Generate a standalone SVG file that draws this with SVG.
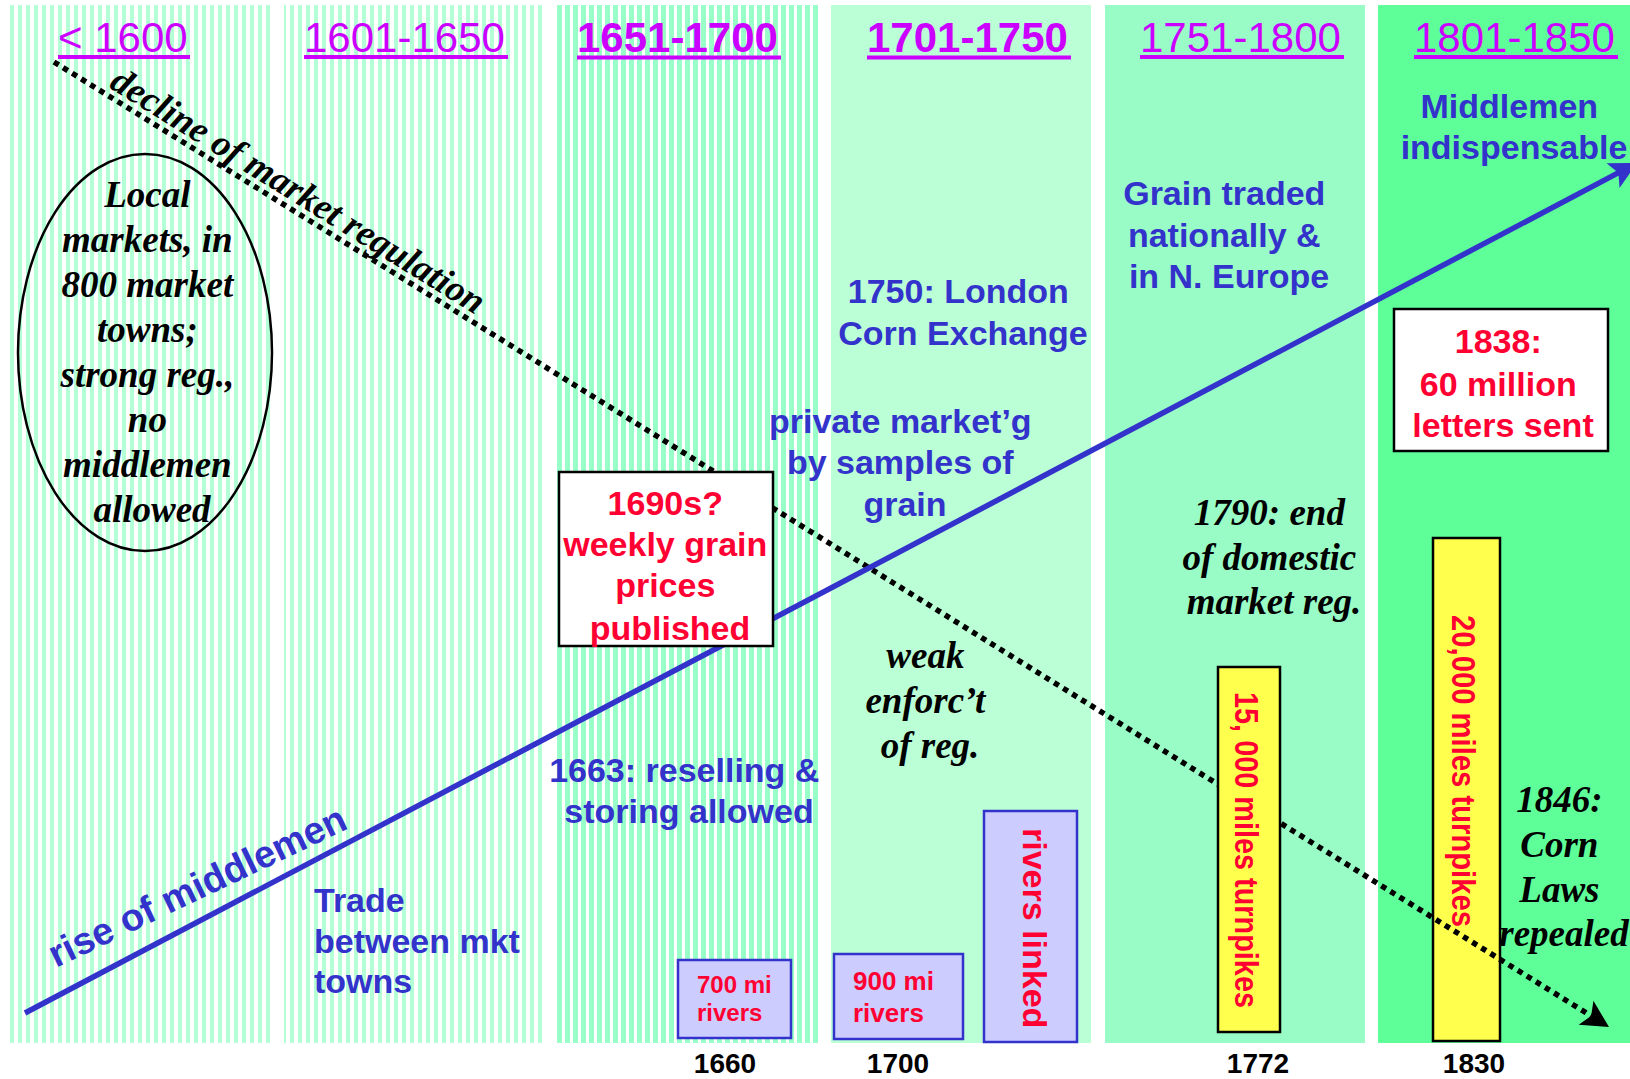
<svg xmlns="http://www.w3.org/2000/svg" width="1630" height="1079" viewBox="0 0 1630 1079">
<defs>
<style>
.sans{font-family:"Liberation Sans",Arial,sans-serif;}
.bold{font-weight:bold;}
.serif{font-family:"Liberation Serif","Times New Roman",serif;font-weight:bold;font-style:italic;fill:#000;}
.title{font-family:"Liberation Sans",Arial,sans-serif;font-size:42px;fill:#cc00ff;}
.ul{stroke:#cc00ff;stroke-width:4;}
.blue{font-family:"Liberation Sans",Arial,sans-serif;font-weight:bold;font-size:34px;fill:#3333cc;}
.red{font-family:"Liberation Sans",Arial,sans-serif;font-weight:bold;fill:#ff0033;}
.whitebox{fill:#ffffff;stroke:#000;stroke-width:2.5;}
.lav{fill:#ccccff;stroke:#3333cc;stroke-width:2.5;}
.yel{fill:#ffff4d;stroke:#000;stroke-width:2.5;}
.year{font-family:"Liberation Sans",Arial,sans-serif;font-weight:bold;font-size:28px;fill:#000;}
</style>
<pattern id="stripeA" patternUnits="userSpaceOnUse" x="2" y="0" width="8" height="10">
<rect x="0" y="0" width="8" height="10" fill="#ffffff"/>
<rect x="0" y="0" width="4" height="10" fill="#b3ffd6"/>
</pattern>
<pattern id="stripeB" patternUnits="userSpaceOnUse" x="5" y="0" width="8" height="10">
<rect x="0" y="0" width="8" height="10" fill="#ffffff"/>
<rect x="0" y="0" width="5" height="10" fill="#99ffc8"/>
</pattern>
<marker id="arrowBlack" markerUnits="userSpaceOnUse" viewBox="-12 -16 32 32" markerWidth="32" markerHeight="32" refX="0" refY="0" orient="auto" overflow="visible">
<path d="M18,0 L-9,-14 L-3,0 L-9,14 Z" fill="#000"/>
</marker>
<marker id="arrowBlue" markerUnits="userSpaceOnUse" viewBox="-12 -16 32 32" markerWidth="32" markerHeight="32" refX="0" refY="0" orient="auto" overflow="visible">
<path d="M18,0 L-9,-14 L-3,0 L-9,14 Z" fill="#3333cc"/>
</marker>
</defs>

<rect x="0" y="0" width="1630" height="1079" fill="#ffffff"/>

<g id="columns">
<rect x="10" y="5" width="262" height="1038" fill="url(#stripeA)"/>
<rect x="284" y="5" width="259" height="1038" fill="url(#stripeA)"/>
<rect x="557" y="5" width="261" height="1038" fill="url(#stripeB)"/>
<rect x="831" y="5" width="260" height="1038" fill="#bbffd6"/>
<rect x="1105" y="5" width="260" height="1038" fill="#99fcc6"/>
<rect x="1378" y="5" width="262" height="1038" fill="#5eff99"/>
</g>

<g id="titles">
<text class="title" x="58" y="52">&lt; 1600</text>
<line class="ul" x1="58" y1="57" x2="190" y2="57"/>
<text class="title" x="304" y="52">1601-1650</text>
<line class="ul" x1="304" y1="57" x2="508" y2="57"/>
<text class="title bold" x="577" y="52">1651-1700</text>
<line class="ul" x1="577" y1="57.5" x2="781" y2="57.5" stroke-width="5"/>
<text class="title bold" x="867" y="52">1701-1750</text>
<line class="ul" x1="867" y1="57.5" x2="1071" y2="57.5" stroke-width="5"/>
<text class="title" x="1140" y="52">1751-1800</text>
<line class="ul" x1="1140" y1="57" x2="1344" y2="57"/>
<text class="title" x="1414" y="52">1801-1850</text>
<line class="ul" x1="1414" y1="57" x2="1618" y2="57"/>
</g>

<g id="node-20000-turnpikes">
<rect class="yel" x="1433" y="538" width="67" height="503"/>
<text class="red" font-size="33" transform="translate(1452,615) rotate(90)" textLength="312" lengthAdjust="spacingAndGlyphs">20,000 miles turnpikes</text>
</g>

<g id="connectors">
<path d="M54,62 L1593.7,1017.5" fill="none" stroke="#000" stroke-width="5.5" stroke-dasharray="5.5 5.2" marker-end="url(#arrowBlack)"/>
<path d="M25,1013 L1621,171.4" fill="none" stroke="#3333cc" stroke-width="5.5" marker-end="url(#arrowBlue)"/>
</g>

<g id="label-decline">
<text class="serif" font-size="37" transform="translate(108,87) rotate(31.8)">decline of market regulation</text>
</g>
<g id="label-rise">
<text class="blue" style="font-size:38px" transform="translate(56,968) rotate(-25.5)">rise of middlemen</text>
</g>

<g id="node-local-markets">
<ellipse cx="145" cy="352.5" rx="127" ry="198.5" fill="none" stroke="#000" stroke-width="2.5"/>
<text class="serif" font-size="37" text-anchor="middle">
<tspan x="152" y="207">Local</tspan>
<tspan x="152" y="252">markets, in</tspan>
<tspan x="152" y="297">800 market</tspan>
<tspan x="152" y="342">towns;</tspan>
<tspan x="152" y="387">strong reg.,</tspan>
<tspan x="152" y="432">no</tspan>
<tspan x="152" y="477">middlemen</tspan>
<tspan x="152" y="522">allowed</tspan>
</text>
</g>

<g id="node-trade">
<text class="blue">
<tspan x="314" y="912">Trade</tspan>
<tspan x="314" y="953">between mkt</tspan>
<tspan x="314" y="993">towns</tspan>
</text>
</g>

<g id="node-1663">
<text class="blue" text-anchor="middle">
<tspan x="689" y="782">1663: reselling &amp;</tspan>
<tspan x="689" y="823">storing allowed</tspan>
</text>
</g>

<g id="node-1690s">
<rect class="whitebox" x="559" y="472" width="214" height="174"/>
<text class="red" font-size="34" text-anchor="middle">
<tspan x="670" y="515">1690s?</tspan>
<tspan x="670" y="556">weekly grain</tspan>
<tspan x="670" y="597">prices</tspan>
<tspan x="670" y="640">published</tspan>
</text>
</g>

<g id="node-700mi">
<rect class="lav" x="678" y="960" width="113" height="78"/>
<text class="red" font-size="24">
<tspan x="697" y="993">700 mi</tspan>
<tspan x="697" y="1021">rivers</tspan>
</text>
</g>

<g id="node-900mi">
<rect class="lav" x="834" y="954" width="129" height="85"/>
<text class="red" font-size="26">
<tspan x="853" y="990">900 mi</tspan>
<tspan x="853" y="1022">rivers</tspan>
</text>
</g>

<g id="node-rivers-linked">
<rect class="lav" x="984" y="811" width="93" height="231"/>
<text class="red" font-size="34" transform="translate(1023,828) rotate(90)">rivers linked</text>
</g>

<g id="node-private-marketing">
<text class="blue" text-anchor="middle">
<tspan x="905" y="433">private market’g</tspan>
<tspan x="905" y="474">by samples of</tspan>
<tspan x="905" y="516">grain</tspan>
</text>
</g>

<g id="node-london">
<text class="blue" text-anchor="middle">
<tspan x="963" y="303">1750: London</tspan>
<tspan x="963" y="345">Corn Exchange</tspan>
</text>
</g>

<g id="node-weak">
<text class="serif" font-size="37" text-anchor="middle">
<tspan x="930" y="668">weak</tspan>
<tspan x="930" y="713">enforc’t</tspan>
<tspan x="930" y="758">of reg.</tspan>
</text>
</g>

<g id="node-grain-traded">
<text class="blue" text-anchor="middle">
<tspan x="1229" y="205">Grain traded</tspan>
<tspan x="1229" y="247">nationally &amp;</tspan>
<tspan x="1229" y="288">in N. Europe</tspan>
</text>
</g>

<g id="node-1790">
<text class="serif" font-size="37" text-anchor="middle">
<tspan x="1274" y="525">1790: end</tspan>
<tspan x="1274" y="570">of domestic</tspan>
<tspan x="1274" y="614">market reg.</tspan>
</text>
</g>

<g id="node-15000-turnpikes">
<rect class="yel" x="1218" y="667" width="62" height="365"/>
<text class="red" font-size="33" transform="translate(1235,692) rotate(90)" textLength="316" lengthAdjust="spacingAndGlyphs">15, 000 miles turnpikes</text>
</g>

<g id="node-middlemen">
<text class="blue" text-anchor="middle">
<tspan x="1514" y="118">Middlemen</tspan>
<tspan x="1514" y="159">indispensable</tspan>
</text>
</g>

<g id="node-1838">
<rect class="whitebox" x="1394" y="309" width="214" height="142"/>
<text class="red" font-size="34" text-anchor="middle">
<tspan x="1503" y="353">1838:</tspan>
<tspan x="1503" y="396">60 million</tspan>
<tspan x="1503" y="437">letters sent</tspan>
</text>
</g>

<g id="node-1846">
<text class="serif" font-size="37" text-anchor="middle">
<tspan x="1564" y="812">1846:</tspan>
<tspan x="1564" y="857">Corn</tspan>
<tspan x="1564" y="902">Laws</tspan>
<tspan x="1564" y="946">repealed</tspan>
</text>
</g>

<g id="years">
<text class="year" x="725" y="1073" text-anchor="middle">1660</text>
<text class="year" x="898" y="1073" text-anchor="middle">1700</text>
<text class="year" x="1258" y="1073" text-anchor="middle">1772</text>
<text class="year" x="1474" y="1073" text-anchor="middle">1830</text>
</g>
</svg>
